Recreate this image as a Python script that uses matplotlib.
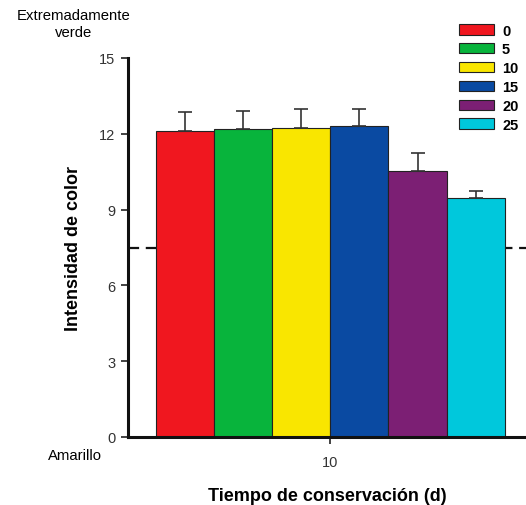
import matplotlib
matplotlib.use("Agg")
import matplotlib.pyplot as plt
from matplotlib.patches import Patch

plt.rcParams['font.family'] = ['Liberation Sans', 'DejaVu Sans']

# Storage temperatures (legend) and colour intensity after 10 d
series_labels = ["0", "5", "10", "15", "20", "25"]
intensity = [12.12, 12.18, 12.24, 12.32, 10.52, 9.44]
intensity_err = [0.75, 0.72, 0.74, 0.66, 0.71, 0.30]
bar_colors = ["#f0171f", "#08b43c", "#f9e600", "#0a4aa2", "#7c1f74", "#00c8dc"]
x_tick_label = "10"
y_ticks = [0, 3, 6, 9, 12, 15]
threshold = 7.5

fig = plt.figure(figsize=(5.26, 5.06), dpi=100)
ax = fig.add_axes([128 / 526, 68 / 506, 1 - 128 / 526, (438 - 59) / 506])

xs = list(range(len(intensity)))
ax.bar(xs, intensity, width=1.0, color=bar_colors, edgecolor="#222222",
       linewidth=0.8, zorder=2)
ax.errorbar(xs, intensity, yerr=[[0] * len(intensity_err), intensity_err],
            fmt="none", ecolor="#333333", elinewidth=1.2, capsize=5,
            capthick=1.2, zorder=3)

# Threshold line, drawn behind the bars
ax.axhline(threshold, color="#111111", lw=1.6, ls=(0, (5, 3)), zorder=1)

ax.set_xlim(-0.99, 5.87)
ax.set_ylim(0, 15)
ax.set_yticks(y_ticks)
ax.set_yticklabels([str(t) for t in y_ticks], fontsize=10.5, color="#333333")
ax.set_xticks([2.5])
ax.set_xticklabels([x_tick_label], fontsize=10.5, color="#333333")
ax.tick_params(axis="y", direction="out", length=5, width=1.2,
               color="#222222", pad=4)
ax.tick_params(axis="x", direction="out", length=5, width=1.2,
               color="#222222", pad=8)

for side in ("top", "right"):
    ax.spines[side].set_visible(False)
for side in ("left", "bottom"):
    ax.spines[side].set_linewidth(2.2)
    ax.spines[side].set_color("#111111")
    ax.spines[side].set_zorder(4)

ax.set_ylabel("Intensidad de color", fontsize=13, fontweight="bold", labelpad=12.5)
ax.set_xlabel("Tiempo de conservación (d)", fontsize=13, fontweight="bold",
              labelpad=13)

fig.text(74 / 526, 1 - 24.5 / 506, "Extremadamente\nverde", ha="center",
         va="center", fontsize=10.7, linespacing=1.25)
fig.text(75 / 526, 1 - 456 / 506, "Amarillo", ha="center", va="center",
         fontsize=10.7)

handles = [Patch(facecolor=c, edgecolor="#222222", linewidth=0.8)
           for c in bar_colors]
leg = fig.legend(handles, series_labels, loc="upper left",
                 bbox_to_anchor=(459 / 526, 1 - 24.5 / 506), frameon=False,
                 prop={"weight": "bold", "size": 10.5}, handlelength=2.4,
                 handleheight=0.7, handletextpad=0.55, labelspacing=0.33,
                 borderaxespad=0, borderpad=0)

fig.savefig("out.png", dpi=100)
